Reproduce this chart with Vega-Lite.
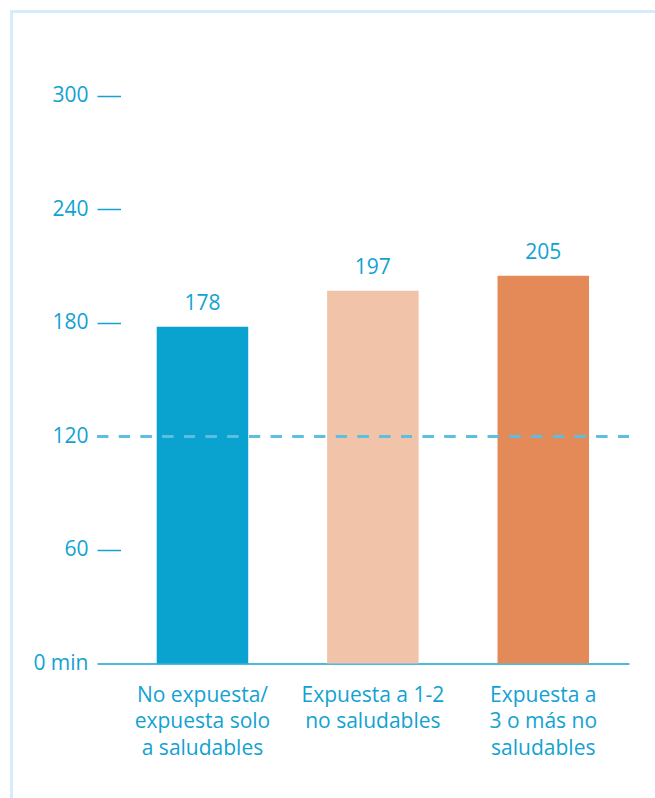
{
  "$schema": "https://vega.github.io/schema/vega-lite/v6.json",
  "width": 532,
  "height": 787,
  "autosize": "none",
  "padding": {"left": 97, "top": 11, "right": 26, "bottom": 0},
  "background": "white",
  "config": {"view": {"stroke": null}, "font": "Open Sans"},
  "data": {
    "values": [
      {"categoria": "No expuesta/\nexpuesta solo\na saludables", "minutos": 178},
      {"categoria": "Expuesta a 1-2\nno saludables", "minutos": 197},
      {"categoria": "Expuesta a\n3 o más no\nsaludables", "minutos": 205}
    ]
  },
  "resolve": {"axis": {"x": "independent", "y": "independent"}},
  "layer": [
    {
      "mark": {"type": "bar"},
      "encoding": {
        "x": {
          "field": "categoria",
          "type": "nominal",
          "sort": null,
          "scale": {"paddingInner": 0.463, "paddingOuter": 0.2925, "align": 0.599},
          "axis": {
            "orient": "bottom",
            "offset": -134.5,
            "title": null,
            "domain": true,
            "domainColor": "#12a2d2",
            "domainWidth": 1.5,
            "ticks": false,
            "labelAngle": 0,
            "labelAlign": "center",
            "labelBaseline": "top",
            "labelPadding": 20.5,
            "labelFont": "Open Sans",
            "labelFontSize": 21,
            "labelColor": "#12a2d2",
            "labelLineHeight": 26.5,
            "labelLimit": 0,
            "labelOverlap": false,
            "labelExpr": "split(datum.label, '\\n')"
          }
        },
        "y": {
          "field": "minutos",
          "type": "quantitative",
          "scale": {"domain": [-71.1, 344.93], "nice": false, "zero": false},
          "axis": {
            "orient": "left",
            "offset": 0,
            "title": null,
            "values": [0, 60, 120, 180, 240, 300],
            "labelExpr": "datum.value === 0 ? '0 min' : datum.label",
            "domain": false,
            "grid": false,
            "ticks": true,
            "tickSize": -23.5,
            "tickWidth": 1.5,
            "tickColor": "#12a2d2",
            "tickOpacity": {"condition": {"test": "datum.value === 120 || datum.value === 0", "value": 0}, "value": 1},
            "labelPadding": 32.5,
            "labelFont": "Open Sans",
            "labelFontSize": 21,
            "labelColor": "#12a2d2",
            "labelAlign": "right",
            "labelBaseline": "middle"
          }
        },
        "y2": {"datum": 0},
        "color": {
          "field": "categoria",
          "type": "nominal",
          "sort": null,
          "scale": {"range": ["#0aa2cf", "#f1c4aa", "#e38a58"]},
          "legend": null
        }
      }
    },
    {
      "mark": {"type": "text", "dy": -17, "baseline": "alphabetic", "align": "center", "font": "Open Sans", "fontSize": 21, "color": "#12a2d2"},
      "encoding": {
        "x": {"field": "categoria", "type": "nominal", "sort": null, "axis": null},
        "y": {
          "field": "minutos",
          "type": "quantitative",
          "axis": {
            "orient": "left",
            "offset": 86,
            "title": null,
            "values": [344.93],
            "domain": true,
            "domainColor": "#d3eef8",
            "domainWidth": 3,
            "ticks": true,
            "tickSize": -644,
            "tickWidth": 3,
            "tickColor": "#d3eef8",
            "tickCap": "square",
            "labels": false,
            "grid": false
          }
        },
        "text": {"field": "minutos", "type": "quantitative"}
      }
    },
    {
      "mark": {"type": "rule", "strokeDash": [11, 10.7], "strokeWidth": 2.5, "color": "#5bbfe1"},
      "encoding": {
        "y": {"datum": 120, "type": "quantitative", "axis": null}
      }
    }
  ]
}
